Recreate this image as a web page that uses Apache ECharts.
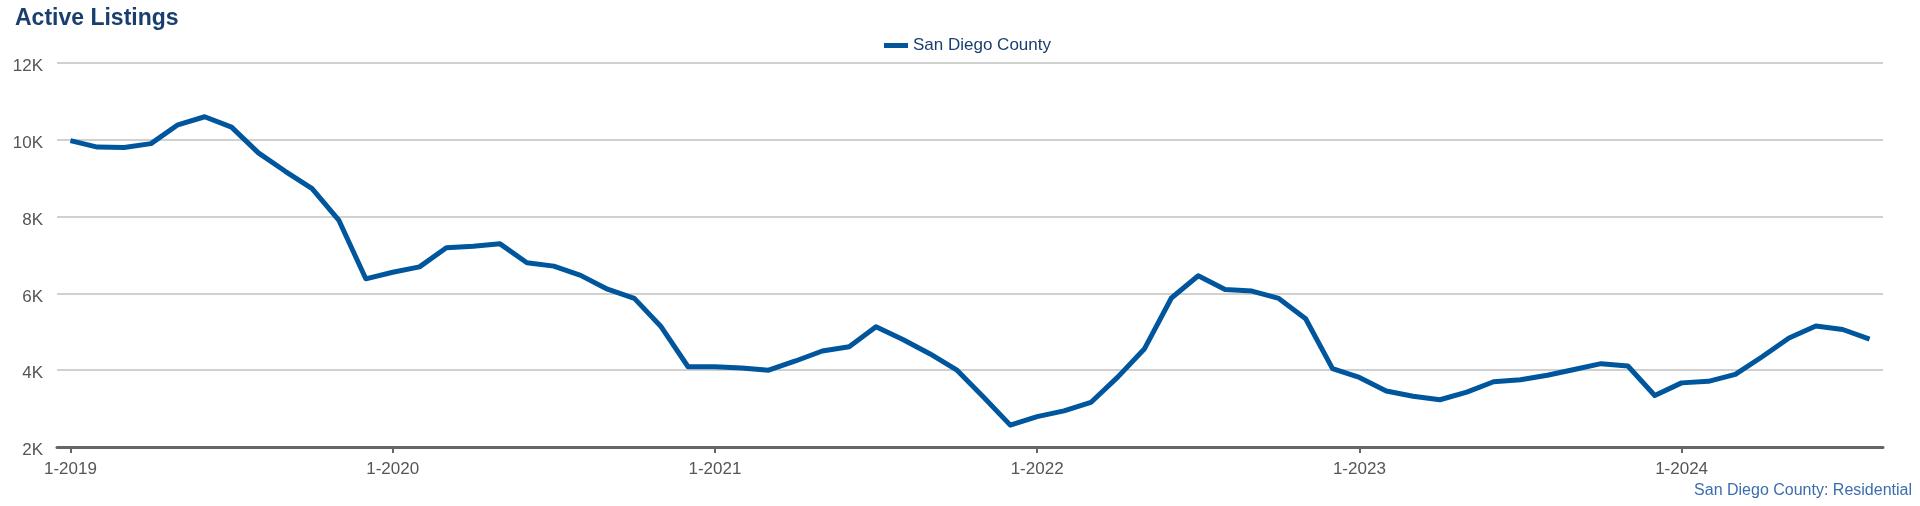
<!DOCTYPE html>
<html>
<head>
<meta charset="utf-8">
<script src="https://cdn.jsdelivr.net/npm/echarts@6/dist/echarts.min.js"></script>
<style>
html,body{margin:0;padding:0;background:#fff;}
#chart{width:1920px;height:506px;}
</style>
</head>
<body>
<div id="chart"></div>
<script>
const titleText = "Active Listings";
const seriesName = "San Diego County";
const sourceText = "San Diego County: Residential";
const startYear = 2019;
const monthCount = 68;
const categories = [];
for (let i = 0; i < monthCount; i++) {
  categories.push(((i % 12) + 1) + "-" + (startYear + Math.floor(i / 12)));
}
const listings = [
  9980, 9810, 9800, 9900, 10390, 10600, 10330, 9660, 9180, 8730, 7900, 6380,
  6550, 6690, 7190, 7230, 7290, 6800, 6710, 6470, 6110, 5870, 5130, 4090,
  4090, 4060, 4000, 4240, 4500, 4610, 5130, 4800, 4430, 4010, 3300, 2570,
  2790, 2940, 3160, 3820, 4560, 5880, 6460, 6100, 6060, 5870, 5340, 4040,
  3810, 3460, 3320, 3230, 3430, 3700, 3750, 3870, 4020, 4170, 4110, 3340,
  3670, 3710, 3890, 4350, 4840, 5150, 5060, 4810
];
const yMin = 2000, yMax = 12000, yStep = 2000;

const font = "'Liberation Sans', Arial, sans-serif";
const chart = echarts.init(document.getElementById('chart'));
chart.setOption({
  animation: false,
  textStyle: { fontFamily: font },
  title: [
    { text: titleText, left: 10, top: 2,
      textStyle: { fontFamily: font, fontSize: 23, fontWeight: 'bold', color: '#1a3e6e' } },
    { text: sourceText, right: 3, bottom: 2,
      textStyle: { fontFamily: font, fontSize: 16, fontWeight: 'normal', color: '#3a6db0' } }
  ],
  legend: {
    top: 32, left: 879,
    icon: 'rect', itemWidth: 24, itemHeight: 5, itemGap: 10,
    textStyle: { fontFamily: font, fontSize: 17, color: '#1a3e6e' },
    data: [seriesName]
  },
  grid: { left: 57, right: 37, top: 63, bottom: 59, containLabel: false },
  xAxis: {
    type: 'category',
    data: categories,
    boundaryGap: true,
    axisLine: { lineStyle: { color: '#666', width: 3 } },
    axisTick: { show: true, alignWithLabel: true, length: 6,
      interval: (i) => i % 12 === 0,
      lineStyle: { color: '#666', width: 2 } },
    axisLabel: { interval: (i) => i % 12 === 0, margin: 14,
      fontFamily: font, fontSize: 17, color: '#555' },
    splitLine: { show: false }
  },
  yAxis: {
    type: 'value', min: yMin, max: yMax, interval: yStep,
    axisLine: { show: false }, axisTick: { show: false },
    axisLabel: { margin: 14, fontFamily: font, fontSize: 17, color: '#555',
      formatter: (v) => '{t|' + (v / 1000) + 'K}',
      rich: { t: { fontFamily: font, fontSize: 17, color: '#555', padding: [7, 0, 0, 0] } } },
    splitLine: { lineStyle: { color: '#c0c0c0', width: 1.5 } }
  },
  series: [{
    name: seriesName, type: 'line', data: listings,
    showSymbol: false, symbol: 'none',
    lineStyle: { color: '#00569d', width: 5, join: 'round' },
    itemStyle: { color: '#00569d' }
  }]
});
</script>
</body>
</html>
